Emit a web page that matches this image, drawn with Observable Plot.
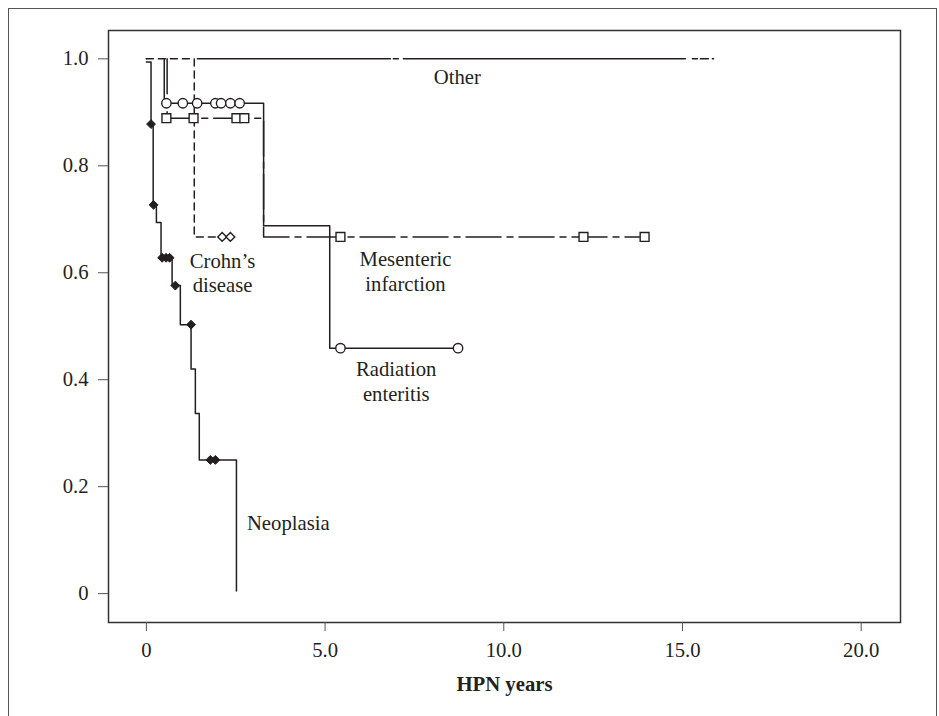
<!DOCTYPE html>
<html>
<head>
<meta charset="utf-8">
<script src="https://cdn.jsdelivr.net/npm/d3@7"></script>
<script src="https://cdn.jsdelivr.net/npm/@observablehq/plot@0.6"></script>
<style>
  html, body { margin: 0; padding: 0; background: #fff; }
  #wrap { position: relative; width: 939px; height: 716px; overflow: hidden; }
  #outer { position: absolute; left: 8px; top: 8px; width: 929px; height: 760px;
           border: 1.5px solid #555; box-sizing: border-box; }
  #chart { position: absolute; left: 0; top: 0; }
  svg { overflow: visible; }
</style>
</head>
<body>
<div id="wrap"><div id="outer"></div><div id="chart"></div></div>
<script>
// ---- data ----
const xTicks = [0, 5, 10, 15, 20];
const xTickLabels = ["0", "5.0", "10.0", "15.0", "20.0"];
const yTicks = [0, 0.2, 0.4, 0.6, 0.8, 1.0];
const yTickLabels = ["0", "0.2", "0.4", "0.6", "0.8", "1.0"];

// step curves (step-after)
const neoX = [0, 0.13, 0.19, 0.28, 0.41, 0.72, 0.95, 1.25, 1.37, 1.48, 2.52];
const neoY = [0.994, 0.878, 0.727, 0.694, 0.628, 0.576, 0.503, 0.42, 0.337, 0.25, 0.005];
const neoCensX = [0.13, 0.2, 0.44, 0.55, 0.65, 0.81, 1.25, 1.79, 1.93];
const neoCensY = [0.878, 0.727, 0.628, 0.628, 0.628, 0.576, 0.503, 0.25, 0.25];

const radX = [0.5, 0.5, 3.28, 5.13, 8.72];
const radY = [1.0, 0.917, 0.688, 0.459, 0.459];
const radCensX = [0.56, 1.02, 1.42, 1.93, 2.09, 2.35, 2.61, 5.43, 8.72];
const radCensY = [0.917, 0.917, 0.917, 0.917, 0.917, 0.917, 0.917, 0.459, 0.459];

const mesX = [0.58, 0.58, 3.28, 13.94];
const mesY = [1.0, 0.889, 0.667, 0.667];
const mesCensX = [0.56, 1.32, 2.52, 2.74, 5.43, 12.23, 13.94];
const mesCensY = [0.889, 0.889, 0.889, 0.889, 0.667, 0.667, 0.667];

const croX = [0, 1.34, 2.35];
const croY = [1.0, 0.667, 0.667];
const croCensX = [2.12, 2.35];
const croCensY = [0.667, 0.667];

const othX = [0, 15.87];
const othY = [1.0, 1.0];

const labelText = ["Other", "Crohn\u2019s\ndisease", "Mesenteric\ninfarction", "Radiation\nenteritis", "Neoplasia"];
const labelX = [8.70, 2.13, 7.25, 6.99, 3.97];
const labelY = [0.967, 0.601, 0.604, 0.398, 0.133];

// ---- build tables ----
const pts = (xs, ys) => xs.map((x, i) => ({x, y: ys[i]}));
const ink = "#231f20";
const font = "'Liberation Serif', 'Times New Roman', serif";
const fs = 20.7;

const lineOpts = {x: "x", y: "y", curve: "step-after", stroke: ink, strokeWidth: 1.5};

const plot = Plot.plot({
  width: 939,
  height: 716,
  marginLeft: 108,
  marginRight: 39,
  marginTop: 30,
  marginBottom: 94,
  style: {fontFamily: font, fontSize: fs + "px", color: ink, background: "transparent"},
  x: {domain: [-1.06, 21.1]},
  y: {domain: [-0.054, 1.053]},
  marks: [
    Plot.frame({stroke: "#333", strokeWidth: 1.5}),
    Plot.axisX({ticks: xTicks, tickFormat: (d) => xTickLabels[xTicks.indexOf(d)], tickSize: 9, tickPadding: 11, label: null, fontSize: fs, stroke: "#555"}),
    Plot.axisY({ticks: yTicks, tickFormat: (d) => yTickLabels[yTicks.indexOf(d)], tickSize: 10, tickPadding: 10, label: null, fontSize: fs, stroke: "#555"}),
    Plot.text(["HPN years"], {frameAnchor: "bottom", dy: 68, fontWeight: "bold", fontSize: fs, fill: ink}),
    // curves
    Plot.line(pts(othX, othY), {...lineOpts, strokeDasharray: "0,51,193,3,5,5,282,7,5,3,8,4,2,100"}),
    Plot.line(pts(mesX, mesY), {...lineOpts, strokeDasharray: "35,6,6,6"}),
    Plot.line(pts(radX, radY), lineOpts),
    Plot.line(pts(croX, croY), {...lineOpts, strokeDasharray: "7,5"}),
    Plot.line(pts(neoX, neoY), lineOpts),
    // censoring marks
    Plot.dot(pts(radCensX, radCensY), {x: "x", y: "y", symbol: "circle", r: 4.7, fill: "white", stroke: ink, strokeWidth: 1.4}),
    Plot.dot(pts(mesCensX, mesCensY), {x: "x", y: "y", symbol: "square", r: 5, fill: "white", stroke: ink, strokeWidth: 1.4}),
    Plot.dot(pts(croCensX, croCensY), {x: "x", y: "y", symbol: "diamond2", r: 4, fill: "white", stroke: ink, strokeWidth: 1.4}),
    Plot.dot(pts(neoCensX, neoCensY), {x: "x", y: "y", symbol: "diamond2", r: 4, fill: ink, stroke: ink, strokeWidth: 1}),
    // group labels
    Plot.text(labelText.map((t, i) => ({t, x: labelX[i], y: labelY[i]})), {x: "x", y: "y", text: "t", fontSize: fs, lineHeight: 1.18, fill: ink})
  ]
});
document.getElementById("chart").appendChild(plot);
</script>
</body>
</html>
